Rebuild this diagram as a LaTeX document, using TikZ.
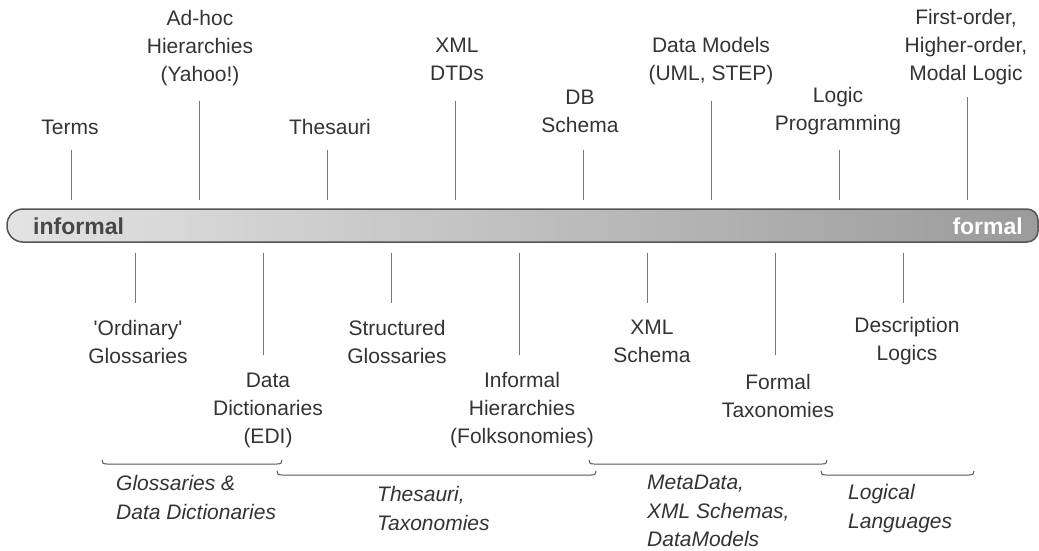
\documentclass[tikz,border=0pt]{standalone}
\usepackage{fontspec}
\setmainfont{Liberation Sans}[Ligatures=TeXOff]
\definecolor{txt}{HTML}{333333}
\definecolor{tickc}{HTML}{777777}
\definecolor{rim}{HTML}{555555}
\definecolor{bardark}{HTML}{767676}
\definecolor{barlight}{HTML}{FCFCFC}
% left-to-right fade of the scale bar
\pgfdeclarehorizontalshading{scaleshade}{100bp}{color(0bp)=(barlight); color(8bp)=(barlight); color(100bp)=(bardark)}
\tikzset{
  term/.style={font=\fontsize{21}{28}\selectfont, text=txt, align=center, inner sep=0pt},
  family/.style={font=\fontsize{21}{28.5}\selectfont\itshape, text=txt, align=left, inner sep=0pt, anchor=west},
  tickline/.style={draw=tickc, line width=1pt},
  bracket/.style={draw=rim, line width=1pt},
  endword/.style={font=\fontsize{23}{28}\selectfont\bfseries, inner sep=0pt}
}
\begin{document}
\begin{tikzpicture}[x=1pt, y=-1pt]
\useasboundingbox (0,0) rectangle (1039,550);

% the scale bar, round on the informal end
\path[draw=rim, line width=1.5pt, shading=scaleshade]
  (40,209) [rounded corners=16pt] -- (7,209) -- (7,242) [sharp corners] -- (40,242)
  -- (1000,242) [rounded corners=11pt] -- (1038,242) -- (1038,209) [sharp corners] -- (1000,209) -- cycle;
\node[endword, text=txt!90, anchor=base west] (informal) at (33,234) {informal};
\node[endword, text=white, anchor=base east] (formal) at (1023,234) {formal};

% ticks above the bar
\foreach \x in {71,327,583,839} \draw[tickline] (\x,150) -- (\x,200);
\foreach \x in {199,455,711} \draw[tickline] (\x,101) -- (\x,200);
\draw[tickline] (967,97) -- (967,200);
% ticks below the bar
\foreach \x in {135,391,647,903} \draw[tickline] (\x,253) -- (\x,303);
\foreach \x in {263,519,775} \draw[tickline] (\x,253) -- (\x,355);

% terms above the bar
\node[term] (terms) at (70,127) {Terms};
\node[term] (adhoc) at (200,48.5) {Ad-hoc\\Hierarchies\\(Yahoo!)};
\node[term] (thes) at (330,127) {Thesauri};
\node[term] (dtd) at (457,59) {XML\\DTDs};
\node[term] (db) at (580,111.5) {DB\\Schema};
\node[term] (dm) at (711,61) {Data Models\\(UML, STEP)};
\node[term] (lp) at (838,111.5) {Logic\\Programming};
\node[term] (fo) at (966,47) {First-order,\\Higher-order,\\Modal Logic};

% terms below the bar
\node[term] (gloss) at (138,341.5) {'Ordinary'\\Glossaries};
\node[term] (dd) at (268,410) {Data\\Dictionaries\\(EDI)};
\node[term] (sg) at (397,341.5) {Structured\\Glossaries};
\node[term] (ih) at (522,410) {Informal\\Hierarchies\\(Folksonomies)};
\node[term] (xs) at (652,341.5) {XML\\Schema};
\node[term] (ft) at (778,396) {Formal\\Taxonomies};
\node[term] (dl) at (907,341.5) {Description\\Logics};

% grouping brackets
\draw[bracket] (102,460) .. controls (102,463) and (103,464) .. (107,464) -- (277,464) .. controls (281,464) and (282,463) .. (282,460);
\draw[bracket] (277,471) .. controls (277,474) and (278,475) .. (282,475) -- (591,475) .. controls (595,475) and (596,474) .. (596,471);
\draw[bracket] (589,460) .. controls (589,463) and (590,464) .. (594,464) -- (822,464) .. controls (826,464) and (827,463) .. (827,460);
\draw[bracket] (821,471) .. controls (821,474) and (822,475) .. (826,475) -- (969,475) .. controls (973,475) and (974,474) .. (974,471);

% group captions
\node[family] (g1) at (116,497.5) {Glossaries \&\\Data Dictionaries};
\node[family] (g2) at (377,508.5) {Thesauri,\\Taxonomies};
\node[family] (g3) at (647,511) {MetaData,\\XML Schemas,\\DataModels};
\node[family] (g4) at (848,508.5) {Logical\\Languages};
\end{tikzpicture}
\end{document}
